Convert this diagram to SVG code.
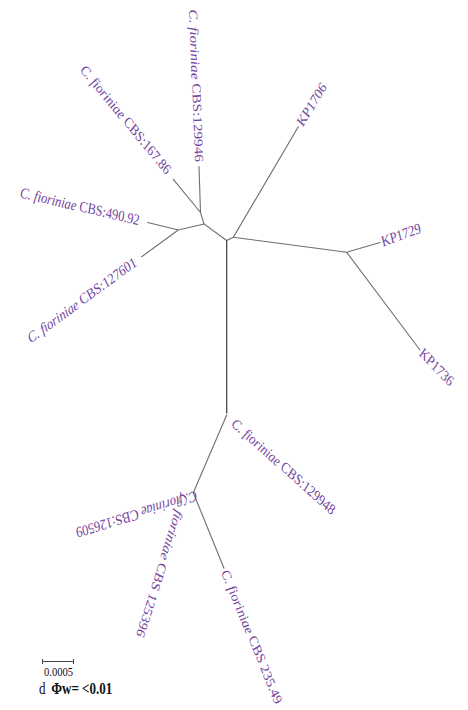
<svg xmlns="http://www.w3.org/2000/svg" width="468" height="710" viewBox="0 0 468 710">
<style>
.br{stroke:#6e6e6e;stroke-width:1.1;fill:none;stroke-linecap:round}
.tr{stroke:#3a3a3a;stroke-width:1.2;fill:none}
.lb{font-family:"Liberation Serif","Times New Roman",serif;font-size:15.25px;fill:#74439e;dominant-baseline:central}
.it{font-style:italic}
.sb{font-family:"Liberation Serif","Times New Roman",serif;fill:#111}
</style>
<rect width="468" height="710" fill="#ffffff"/>
<g id="connectors">
<path class="br" d="M226.7,240.5 L204,224 L200.5,212.5 L199,166.5"/>
<path class="br" d="M200.5,212.5 L173.3,179.3"/>
<path class="br" d="M204,224 L178.3,230 L147.7,222.5"/>
<path class="br" d="M178.3,230 L141.7,256.7"/>
<path class="br" d="M226.7,240.5 L233.3,237.3 L298.3,126.7"/>
<path class="br" d="M233.3,237.3 L346.7,252.3 L380,242.5"/>
<path class="br" d="M346.7,252.3 L420,350"/>
<path class="tr" d="M226.7,240.5 L226.7,413.5"/>
<path class="br" d="M226.7,415 L193.3,492.7 L224,568.3"/>
</g>
<g id="n129946"><text class="lb" text-anchor="end" transform="translate(199 162) scale(0.815 1) rotate(87.5)"><tspan class="it">C. fioriniae</tspan> CBS:129946</text></g>
<g id="n16786"><text class="lb" text-anchor="end" transform="translate(169 172) scale(0.815 1) rotate(44.9)"><tspan class="it">C. fioriniae</tspan> CBS:167.86</text></g>
<g id="n49092"><text class="lb" text-anchor="end" transform="translate(139.5 220.5) scale(0.815 1) rotate(11.1)"><tspan class="it">C. fioriniae</tspan> CBS:490.92</text></g>
<g id="n127601"><text class="lb" text-anchor="end" transform="translate(135.5 261) scale(0.815 1) rotate(-30.6)"><tspan class="it">C. fioriniae</tspan> CBS:127601</text></g>
<g id="kp1706"><text class="lb" transform="translate(299.5 124.5) scale(0.815 1) rotate(-53.1)">KP1706</text></g>
<g id="kp1729"><text class="lb" transform="translate(381.5 242) scale(0.815 1) rotate(-16.5)">KP1729</text></g>
<g id="kp1736"><text class="lb" transform="translate(421 351) scale(0.815 1) rotate(40.2)">KP1736</text></g>
<g id="n129948"><text class="lb" transform="translate(233.5 421) scale(0.815 1) rotate(36.3)"><tspan class="it">C. fioriniae</tspan> CBS:129948</text></g>
<g id="n125396"><text class="lb" transform="translate(185 494.5) scale(0.815 1) rotate(111.3)"><tspan class="it">C. fioriniae</tspan> CBS 125396</text></g>
<g id="n23549"><text class="lb" transform="translate(225 570) scale(0.815 1) rotate(63.6)"><tspan class="it">C. fioriniae</tspan> CBS 235.49</text></g>
<g id="n126509"><text class="lb" transform="translate(197 496) scale(0.815 1) rotate(166)"><tspan class="it">C. fioriniae</tspan> CBS:126509</text></g>
<g id="scalebar">
<path d="M42.5,661.5 H73.5 M42.5,659 V664 M73.5,659 V664" stroke="#444" stroke-width="1" fill="none"/>
<text class="sb" font-size="13" text-anchor="middle" transform="translate(58.5 675.5) scale(0.815 1)">0.0005</text>
<text class="sb" font-size="16" transform="translate(39 694) scale(0.815 1)">d<tspan dx="7" font-weight="bold">Φw= &lt;0.01</tspan></text>
</g>
</svg>
